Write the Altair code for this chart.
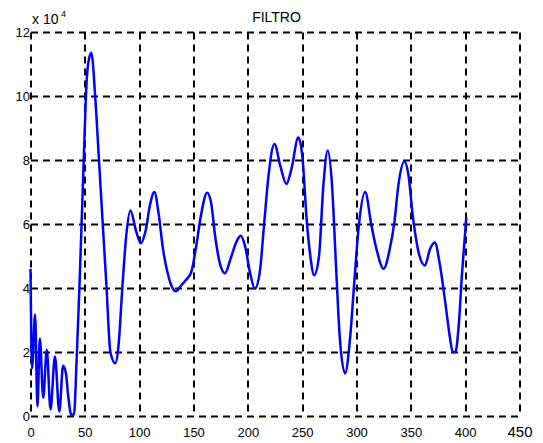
import altair as alt
import pandas as pd

# sample index (x) and filtered amplitude in units of 1e4 (y)
x_vals = [0, 1.5, 4.2, 6.4, 8.6, 11.7, 15, 18.4, 22.5, 26.5, 30, 32.5, 34.8, 37.5, 40,
          42.5, 45, 47, 49, 51, 53, 56, 59.5, 63, 66.5, 70, 73.5, 78, 81, 84.5, 88,
          92, 97, 101.5, 106, 110, 114, 118, 122, 126, 130, 134, 138, 143, 148,
          152, 157, 162.5, 166, 170, 174, 179, 184, 189, 193.5, 197.5, 202, 206.5,
          211, 215, 219, 224.5, 230, 235.5, 240, 246.5, 250.5, 254, 257.5, 261,
          265.5, 269.5, 273.5, 277.5, 281, 284.5, 289.5, 294, 298, 302, 308, 313.5,
          318.5, 325, 330.5, 335, 338.5, 344, 347.5, 352, 358, 363, 367.5, 372,
          377, 381.5, 386, 388.5, 391, 394, 397, 401]
y_vals = [4.6, 1.5, 3.17, 0.3, 2.42, 0.57, 2.07, 0.2, 1.86, 0.14, 1.57, 1.35, 0.6, 0.04, 0.04,
          1.8, 4.0, 6.0, 8.0, 10.0, 11.0, 11.35, 10.0, 8.0, 6.0, 4.0, 2.0, 1.65, 2.2, 4.0, 5.6,
          6.42, 5.8, 5.4, 5.8, 6.6, 7.0, 6.3, 5.2, 4.5, 4.05, 3.9, 4.05, 4.25, 4.5,
          5.2, 6.3, 6.98, 6.7, 5.6, 4.8, 4.46, 4.9, 5.4, 5.63, 5.3, 4.48, 3.98,
          4.5, 6.0, 7.5, 8.5, 7.8, 7.25, 7.7, 8.7, 8.0, 6.2, 5.0, 4.4,
          5.0, 7.2, 8.3, 7.2, 4.8, 2.5, 1.33, 2.4, 4.2, 5.9, 7.0, 6.0,
          5.2, 4.6, 5.2, 6.1, 7.2, 7.95, 7.6, 6.2, 5.0, 4.7, 5.2, 5.42,
          4.67, 3.6, 2.45, 2.0, 2.0, 2.8, 4.4, 6.2]

x_ticks = [0, 50, 100, 150, 200, 250, 300, 350, 400, 450]
y_ticks = [0, 2, 4, 6, 8, 10, 12]

title_text = "FILTRO"
exp_text = "x 10"
exp_power = "4"

df = pd.DataFrame({"n": x_vals, "v": y_vals})

grid_style = dict(grid=True, gridColor="black", gridDash=[7, 5], gridWidth=2,
                  gridOpacity=1, domain=False, ticks=False, title=None,
                  labelFlush=False, labelOverlap=False)

line = alt.Chart(df).mark_line(color="#0000FF", strokeWidth=2.5, interpolate="monotone").encode(
    x=alt.X("n:Q", scale=alt.Scale(domain=[0, 450], nice=False),
            axis=alt.Axis(values=x_ticks, labelPadding=20.5, labelBaseline="alphabetic",
                          labelColor="black",
                          labelFont={"condition": {"test": "datum.value == 450", "value": "Liberation Sans"},
                                     "value": "Liberation Sans Narrow, Liberation Sans"},
                          labelFontSize={"condition": {"test": "datum.value == 450", "value": 15},
                                         "value": 13},
                          **grid_style)),
    y=alt.Y("v:Q", scale=alt.Scale(domain=[0, 12], nice=False),
            axis=alt.Axis(values=y_ticks, labelPadding=1, labelColor="black",
                          labelFont="Liberation Sans", labelFontSize=13, **grid_style)),
)

title_mark = alt.Chart(pd.DataFrame({"t": [title_text]})).mark_text(
    align="center", baseline="alphabetic", font="Liberation Sans", fontSize=14, color="black"
).encode(text="t:N", x=alt.value(246), y=alt.value(-10))

exp_main = alt.Chart(pd.DataFrame({"t": [exp_text]})).mark_text(
    align="left", baseline="alphabetic", font="Liberation Sans", fontSize=14, color="black"
).encode(text="t:N", x=alt.value(1.5), y=alt.value(-8))

exp_sup = alt.Chart(pd.DataFrame({"t": [exp_power]})).mark_text(
    align="left", baseline="alphabetic", font="Liberation Sans", fontSize=9, color="black"
).encode(text="t:N", x=alt.value(30.5), y=alt.value(-15))

chart = alt.layer(line, title_mark, exp_main, exp_sup).properties(
    width=489, height=384,
    autosize=alt.AutoSizeParams(type="none"),
    padding={"left": 22.5, "top": 24, "right": 15, "bottom": 23},
).configure(background="white").configure_view(stroke=None)

chart.save("out.html", embed_options={"renderer": "svg", "actions": False})
